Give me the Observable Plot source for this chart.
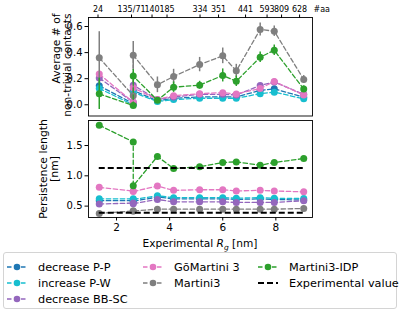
<!DOCTYPE html>
<html>
<head>
<meta charset="utf-8">
<script src="https://cdn.jsdelivr.net/npm/d3@7"></script>
<script src="https://cdn.jsdelivr.net/npm/@observablehq/plot@0.6"></script>
<style>
  body { margin: 0; background: #fff; font-family: "DejaVu Sans", sans-serif; }
  #chart { position: relative; width: 400px; height: 311px; overflow: hidden; background: #fff; }
  #top, #bottom { position: absolute; left: 0; }
  #top { top: 0; }
  #bottom { top: 118px; }
  #top svg, #bottom svg { overflow: visible; }
  #legend {
    position: absolute; left: 3px; top: 252px; width: 394px; height: 57px;
    border: 1px solid #d4d4d4; border-radius: 3px; box-sizing: border-box;
    display: grid; grid-template-columns: 136px 115px auto; grid-template-rows: repeat(3, 16px);
    padding: 6px 0 0 3px; font-size: 11.3px; color: #000;
  }
  .item { display: flex; align-items: center; white-space: nowrap; }
  .item svg { margin-right: 10px; flex: none; }
</style>
</head>
<body>
<div id="chart">
  <div id="top"></div>
  <div id="bottom"></div>
  <div id="legend"></div>
</div>
<script>
// Experimental radius of gyration (nm) of each protein, in plotting order
const rg = [1.35, 2.63, 2.63, 3.54, 4.15, 5.13, 6.0, 6.51, 7.41, 7.94, 9.05];
// Secondary axis: sequence length (#aa) tick positions and labels
const aaTickRg = [1.303, 2.565, 3.337, 3.902, 5.145, 5.842, 6.859, 7.669, 8.215, 8.893];
const aaTickLabels = ["24", "135/71", "140", "185", "334", "351", "441", "593", "809", "628"];

const models = ["decrease P-P", "increase P-W", "decrease BB-SC", "GōMartini 3", "Martini3", "Martini3-IDP"];
const modelColors = ["#1f77b4", "#17becf", "#9467bd", "#e377c2", "#7f7f7f", "#2ca02c"];

// Average number of non-trivial contacts
const contactsDecreasePP   = [0.145, 0.01, 0.11, 0.03, 0.05, 0.06, 0.06, 0.06, 0.11, 0.122, 0.058];
const contactsIncreasePW   = [0.125, 0.0, 0.095, 0.025, 0.04, 0.05, 0.05, 0.05, 0.085, 0.097, 0.046];
const contactsDecreaseBBSC = [0.205, 0.02, 0.15, 0.04, 0.06, 0.08, 0.08, 0.075, 0.148, 0.175, 0.08];
const contactsGoMartini3   = [0.235, 0.02, 0.13, 0.04, 0.07, 0.085, 0.093, 0.083, 0.125, 0.178, 0.075];
const contactsMartini3     = [0.36, 0.07, 0.38, 0.153, 0.217, 0.308, 0.375, 0.26, 0.577, 0.564, 0.194];
const contactsMartini3IDP  = [0.084, -0.005, 0.22, 0.035, 0.135, 0.15, 0.225, 0.18, 0.365, 0.418, 0.12];
const contactsErrMartini3    = [0.2, 0.04, 0.105, 0.06, 0.055, 0.055, 0.06, 0.05, 0.05, 0.04, 0.03];
const contactsErrMartini3IDP = [0.12, 0.02, 0.05, 0.02, 0.04, 0.03, 0.05, 0.04, 0.04, 0.04, 0.025];

// Persistence length (nm)
const persistDecreasePP   = [0.59, 0.59, 0.58, 0.65, 0.62, 0.62, 0.62, 0.61, 0.62, 0.61, 0.60];
const persistIncreasePW   = [0.62, 0.62, 0.61, 0.67, 0.64, 0.64, 0.64, 0.63, 0.64, 0.63, 0.625];
const persistDecreaseBBSC = [0.535, 0.55, 0.54, 0.61, 0.57, 0.57, 0.57, 0.56, 0.56, 0.56, 0.59];
const persistGoMartini3   = [0.81, 0.75, 0.74, 0.83, 0.76, 0.77, 0.77, 0.75, 0.76, 0.75, 0.735];
const persistMartini3     = [0.38, 0.42, 0.42, 0.45, 0.45, 0.45, 0.45, 0.45, 0.45, 0.45, 0.46];
const persistMartini3IDP  = [1.835, 1.56, 0.835, 1.32, 1.12, 1.15, 1.22, 1.23, 1.175, 1.22, 1.285];
const experimentalPersistence = [1.13, 0.39];

const xDomain = [0.945, 9.38];
const font = '"DejaVu Sans", sans-serif';

function tidy(valuesList, errList) {
  return models.map((m, s) => rg.map((x, i) => ({
    model: m, rg: x, value: valuesList[s][i],
    err: errList[s] ? errList[s][i] : 0
  })));
}

// one dashed line + error bars + markers per model, drawn model after model
function modelMarks(series) {
  return series.flatMap(data => [
    Plot.line(data, {x: "rg", y: "value", stroke: "model", strokeWidth: 1.3, strokeDasharray: "4.5,2.5"}),
    Plot.ruleX(data.filter(d => d.err > 0), {x: "rg", y1: d => d.value - d.err, y2: d => d.value + d.err, stroke: "model", strokeWidth: 1.5}),
    Plot.dot(data, {x: "rg", y: "value", fill: "model", r: 3.5})
  ]);
}

const contactsRows = tidy(
  [contactsDecreasePP, contactsIncreasePW, contactsDecreaseBBSC, contactsGoMartini3, contactsMartini3, contactsMartini3IDP],
  [null, null, null, null, contactsErrMartini3, contactsErrMartini3IDP]
);
const persistRows = tidy(
  [persistDecreasePP, persistIncreasePW, persistDecreaseBBSC, persistGoMartini3, persistMartini3, persistMartini3IDP],
  [null, null, null, null, null, null]
);

const aaLabelByRg = new Map(aaTickRg.map((x, i) => [x, aaTickLabels[i]]));

const topPlot = Plot.plot({
  width: 400, height: 118,
  marginLeft: 88, marginRight: 88, marginTop: 17, marginBottom: 2.5,
  style: {fontFamily: font, fontSize: "10px", background: "white", color: "black"},
  x: {domain: xDomain, axis: null},
  y: {domain: [-0.086, 0.669], axis: null},
  color: {domain: models, range: modelColors},
  marks: [
    ...modelMarks(contactsRows),
    Plot.frame({stroke: "black", strokeWidth: 0.9}),
    Plot.axisY({ticks: [0, 0.2, 0.4, 0.6], tickFormat: d3.format(".1f"), tickSize: 3.5, tickPadding: 2.5, label: null, fontSize: 10}),
    Plot.axisX({anchor: "top", ticks: aaTickRg, tickFormat: d => aaLabelByRg.get(d), tickSize: 3.5, tickPadding: 2, label: null, fontSize: 8}),
    Plot.text(["#aa"], {frameAnchor: "top-right", textAnchor: "start", dx: 1, dy: -11, fontSize: 8}),
    Plot.text(["Average # of\nnon-trivial contacts"], {frameAnchor: "top-left", rotate: -90, textAnchor: "end", dx: -36.5, dy: -4, lineHeight: 1.05, fontSize: 10.7})
  ]
});

const bottomPlot = Plot.plot({
  width: 400, height: 133,
  marginLeft: 88, marginRight: 88, marginTop: 2, marginBottom: 34,
  style: {fontFamily: font, fontSize: "10px", background: "white", color: "black"},
  x: {domain: xDomain, axis: null},
  y: {domain: [0.312, 1.913], axis: null},
  color: {domain: models, range: modelColors},
  marks: [
    ...modelMarks(persistRows),
    Plot.ruleY(experimentalPersistence, {x1: d3.min(rg), x2: d3.max(rg), stroke: "black", strokeWidth: 2, strokeDasharray: "6,3"}),
    Plot.frame({stroke: "black", strokeWidth: 0.9}),
    Plot.axisY({ticks: [0.5, 1.0, 1.5], tickFormat: d3.format(".1f"), tickSize: 3.5, tickPadding: 2.5, label: null, fontSize: 10}),
    Plot.axisX({anchor: "bottom", ticks: [2, 4, 6, 8], tickFormat: d3.format("d"), tickSize: 3.5, tickPadding: 3, label: null, fontSize: 10.5}),
    Plot.text(["Persistence length\n[nm]"], {frameAnchor: "left", rotate: -90, textAnchor: "middle", dx: -39.5, lineHeight: 1.05, fontSize: 10.8})
  ]
});

// x-axis title with italic R and subscript g
{
  const [x0, x1] = bottomPlot.scale("x").range;
  const label = d3.select(bottomPlot).append("text")
    .attr("x", (x0 + x1) / 2).attr("y", 129)
    .attr("text-anchor", "middle").attr("font-size", 10.6).attr("fill", "black");
  label.append("tspan").text("Experimental ");
  label.append("tspan").attr("font-style", "italic").text("R");
  label.append("tspan").attr("font-style", "italic").attr("font-size", 7.5).attr("dy", 2.5).text("g");
  label.append("tspan").attr("dy", -2.5).text(" [nm]");
}

document.getElementById("top").appendChild(topPlot);
document.getElementById("bottom").appendChild(bottomPlot);

// legend
const legendEntries = [
  {name: "decrease P-P", color: modelColors[0], col: 1, row: 1},
  {name: "increase P-W", color: modelColors[1], col: 1, row: 2},
  {name: "decrease BB-SC", color: modelColors[2], col: 1, row: 3},
  {name: "GōMartini 3", color: modelColors[3], col: 2, row: 1},
  {name: "Martini3", color: modelColors[4], col: 2, row: 2},
  {name: "Martini3-IDP", color: modelColors[5], col: 3, row: 1},
  {name: "Experimental value", color: "#000", col: 3, row: 2, experimental: true}
];
const legend = d3.select("#legend");
for (const e of legendEntries) {
  const item = legend.append("div").attr("class", "item")
    .style("grid-column", e.col).style("grid-row", e.row);
  const svg = item.append("svg").attr("width", 21).attr("height", 10);
  if (e.experimental) {
    svg.append("line").attr("x1", 0).attr("x2", 20).attr("y1", 5).attr("y2", 5)
      .attr("stroke", e.color).attr("stroke-width", 2).attr("stroke-dasharray", "6,3");
  } else {
    svg.append("line").attr("x1", 0).attr("x2", 20).attr("y1", 5).attr("y2", 5)
      .attr("stroke", e.color).attr("stroke-width", 1.3).attr("stroke-dasharray", "4.5,2.5");
    svg.append("circle").attr("cx", 10).attr("cy", 5).attr("r", 3.3).attr("fill", e.color);
  }
  item.append("span").text(e.name);
}
</script>
</body>
</html>
